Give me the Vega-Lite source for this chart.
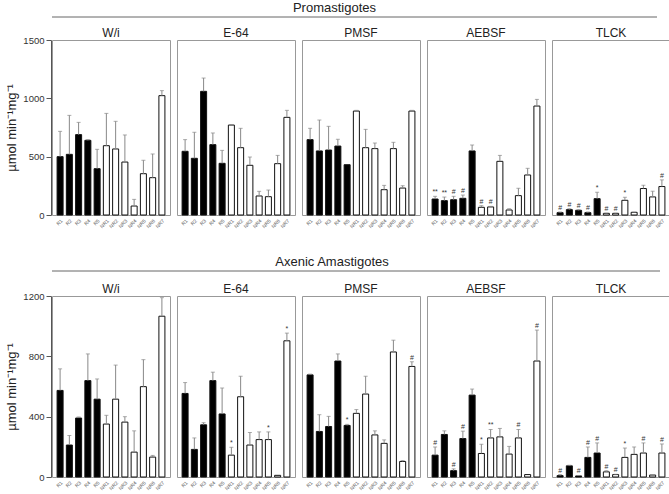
{
"$schema": "https://vega.github.io/schema/vega-lite/v6.json",
"padding": {"left": 5, "top": 2, "right": 2, "bottom": 1},
"config": {"font": "Liberation Sans", "view": {"stroke": "#999", "strokeWidth": 1}, "axis": {"grid": false}},
"data": {"values": [
{"st":"P","inh":"W/i","s":"R1","g":"R","v":500,"hi":717},
{"st":"P","inh":"W/i","s":"R2","g":"R","v":520,"hi":854},
{"st":"P","inh":"W/i","s":"R3","g":"R","v":689,"hi":794},
{"st":"P","inh":"W/i","s":"R4","g":"R","v":640,"hi":646},
{"st":"P","inh":"W/i","s":"R5","g":"R","v":397,"hi":563},
{"st":"P","inh":"W/i","s":"NR1","g":"NR","v":594,"hi":871},
{"st":"P","inh":"W/i","s":"NR2","g":"NR","v":566,"hi":803},
{"st":"P","inh":"W/i","s":"NR3","g":"NR","v":454,"hi":686},
{"st":"P","inh":"W/i","s":"NR4","g":"NR","v":77,"hi":134},
{"st":"P","inh":"W/i","s":"NR5","g":"NR","v":354,"hi":469},
{"st":"P","inh":"W/i","s":"NR6","g":"NR","v":320,"hi":523},
{"st":"P","inh":"W/i","s":"NR7","g":"NR","v":1023,"hi":1066},
{"st":"P","inh":"E-64","s":"R1","g":"R","v":546,"hi":646},
{"st":"P","inh":"E-64","s":"R2","g":"R","v":486,"hi":709},
{"st":"P","inh":"E-64","s":"R3","g":"R","v":1060,"hi":1174},
{"st":"P","inh":"E-64","s":"R4","g":"R","v":603,"hi":703},
{"st":"P","inh":"E-64","s":"R5","g":"R","v":443,"hi":554},
{"st":"P","inh":"E-64","s":"NR1","g":"NR","v":771,"hi":775},
{"st":"P","inh":"E-64","s":"NR2","g":"NR","v":577,"hi":743},
{"st":"P","inh":"E-64","s":"NR3","g":"NR","v":426,"hi":497},
{"st":"P","inh":"E-64","s":"NR4","g":"NR","v":163,"hi":203},
{"st":"P","inh":"E-64","s":"NR5","g":"NR","v":157,"hi":214},
{"st":"P","inh":"E-64","s":"NR6","g":"NR","v":440,"hi":511},
{"st":"P","inh":"E-64","s":"NR7","g":"NR","v":837,"hi":897},
{"st":"P","inh":"PMSF","s":"R1","g":"R","v":646,"hi":743},
{"st":"P","inh":"PMSF","s":"R2","g":"R","v":549,"hi":814},
{"st":"P","inh":"PMSF","s":"R3","g":"R","v":557,"hi":760},
{"st":"P","inh":"PMSF","s":"R4","g":"R","v":591,"hi":649},
{"st":"P","inh":"PMSF","s":"R5","g":"R","v":431,"hi":431},
{"st":"P","inh":"PMSF","s":"NR1","g":"NR","v":891,"hi":897},
{"st":"P","inh":"PMSF","s":"NR2","g":"NR","v":577,"hi":734},
{"st":"P","inh":"PMSF","s":"NR3","g":"NR","v":569,"hi":617},
{"st":"P","inh":"PMSF","s":"NR4","g":"NR","v":217,"hi":254},
{"st":"P","inh":"PMSF","s":"NR5","g":"NR","v":569,"hi":623},
{"st":"P","inh":"PMSF","s":"NR6","g":"NR","v":231,"hi":251},
{"st":"P","inh":"PMSF","s":"NR7","g":"NR","v":891,"hi":897},
{"st":"P","inh":"AEBSF","s":"R1","g":"R","v":137,"hi":160,"a":"**"},
{"st":"P","inh":"AEBSF","s":"R2","g":"R","v":123,"hi":154,"a":"**"},
{"st":"P","inh":"AEBSF","s":"R3","g":"R","v":131,"hi":160,"a":"#"},
{"st":"P","inh":"AEBSF","s":"R4","g":"R","v":143,"hi":171,"a":"#"},
{"st":"P","inh":"AEBSF","s":"R5","g":"R","v":549,"hi":600},
{"st":"P","inh":"AEBSF","s":"NR1","g":"NR","v":66,"hi":80,"a":"#"},
{"st":"P","inh":"AEBSF","s":"NR2","g":"NR","v":69,"hi":74,"a":"#"},
{"st":"P","inh":"AEBSF","s":"NR3","g":"NR","v":460,"hi":511},
{"st":"P","inh":"AEBSF","s":"NR4","g":"NR","v":43,"hi":54},
{"st":"P","inh":"AEBSF","s":"NR5","g":"NR","v":166,"hi":229},
{"st":"P","inh":"AEBSF","s":"NR6","g":"NR","v":343,"hi":400},
{"st":"P","inh":"AEBSF","s":"NR7","g":"NR","v":934,"hi":991},
{"st":"P","inh":"TLCK","s":"R1","g":"R","v":20,"hi":26,"a":"#"},
{"st":"P","inh":"TLCK","s":"R2","g":"R","v":46,"hi":54,"a":"#"},
{"st":"P","inh":"TLCK","s":"R3","g":"R","v":40,"hi":46,"a":"#"},
{"st":"P","inh":"TLCK","s":"R4","g":"R","v":20,"hi":26,"a":"#"},
{"st":"P","inh":"TLCK","s":"R5","g":"R","v":140,"hi":195,"a":"*"},
{"st":"P","inh":"TLCK","s":"NR1","g":"NR","v":14,"hi":16,"a":"#"},
{"st":"P","inh":"TLCK","s":"NR2","g":"NR","v":14,"hi":16,"a":"#"},
{"st":"P","inh":"TLCK","s":"NR3","g":"NR","v":126,"hi":152,"a":"*"},
{"st":"P","inh":"TLCK","s":"NR4","g":"NR","v":23,"hi":25},
{"st":"P","inh":"TLCK","s":"NR5","g":"NR","v":227,"hi":255},
{"st":"P","inh":"TLCK","s":"NR6","g":"NR","v":155,"hi":204},
{"st":"P","inh":"TLCK","s":"NR7","g":"NR","v":244,"hi":301,"a":"#"},
{"st":"A","inh":"W/i","s":"R1","g":"R","v":574,"hi":717},
{"st":"A","inh":"W/i","s":"R2","g":"R","v":212,"hi":275},
{"st":"A","inh":"W/i","s":"R3","g":"R","v":391,"hi":398},
{"st":"A","inh":"W/i","s":"R4","g":"R","v":639,"hi":816},
{"st":"A","inh":"W/i","s":"R5","g":"R","v":516,"hi":650},
{"st":"A","inh":"W/i","s":"NR1","g":"NR","v":351,"hi":409},
{"st":"A","inh":"W/i","s":"NR2","g":"NR","v":516,"hi":742},
{"st":"A","inh":"W/i","s":"NR3","g":"NR","v":364,"hi":400},
{"st":"A","inh":"W/i","s":"NR4","g":"NR","v":165,"hi":306},
{"st":"A","inh":"W/i","s":"NR5","g":"NR","v":599,"hi":778},
{"st":"A","inh":"W/i","s":"NR6","g":"NR","v":132,"hi":143},
{"st":"A","inh":"W/i","s":"NR7","g":"NR","v":1066,"hi":1189},
{"st":"A","inh":"E-64","s":"R1","g":"R","v":554,"hi":626},
{"st":"A","inh":"E-64","s":"R2","g":"R","v":183,"hi":259},
{"st":"A","inh":"E-64","s":"R3","g":"R","v":346,"hi":360},
{"st":"A","inh":"E-64","s":"R4","g":"R","v":639,"hi":695},
{"st":"A","inh":"E-64","s":"R5","g":"R","v":418,"hi":590},
{"st":"A","inh":"E-64","s":"NR1","g":"NR","v":145,"hi":197,"a":"*"},
{"st":"A","inh":"E-64","s":"NR2","g":"NR","v":532,"hi":668},
{"st":"A","inh":"E-64","s":"NR3","g":"NR","v":212,"hi":295},
{"st":"A","inh":"E-64","s":"NR4","g":"NR","v":248,"hi":299},
{"st":"A","inh":"E-64","s":"NR5","g":"NR","v":248,"hi":299,"a":"*"},
{"st":"A","inh":"E-64","s":"NR6","g":"NR","v":11,"hi":11},
{"st":"A","inh":"E-64","s":"NR7","g":"NR","v":903,"hi":954,"a":"*"},
{"st":"A","inh":"PMSF","s":"R1","g":"R","v":677,"hi":682},
{"st":"A","inh":"PMSF","s":"R2","g":"R","v":302,"hi":413},
{"st":"A","inh":"PMSF","s":"R3","g":"R","v":335,"hi":402},
{"st":"A","inh":"PMSF","s":"R4","g":"R","v":769,"hi":816},
{"st":"A","inh":"PMSF","s":"R5","g":"R","v":342,"hi":349,"a":"*"},
{"st":"A","inh":"PMSF","s":"NR1","g":"NR","v":422,"hi":447},
{"st":"A","inh":"PMSF","s":"NR2","g":"NR","v":550,"hi":668},
{"st":"A","inh":"PMSF","s":"NR3","g":"NR","v":279,"hi":306},
{"st":"A","inh":"PMSF","s":"NR4","g":"NR","v":223,"hi":246},
{"st":"A","inh":"PMSF","s":"NR5","g":"NR","v":829,"hi":907},
{"st":"A","inh":"PMSF","s":"NR6","g":"NR","v":103,"hi":109},
{"st":"A","inh":"PMSF","s":"NR7","g":"NR","v":733,"hi":764,"a":"#"},
{"st":"A","inh":"AEBSF","s":"R1","g":"R","v":145,"hi":199,"a":"#"},
{"st":"A","inh":"AEBSF","s":"R2","g":"R","v":282,"hi":306},
{"st":"A","inh":"AEBSF","s":"R3","g":"R","v":42,"hi":54,"a":"#"},
{"st":"A","inh":"AEBSF","s":"R4","g":"R","v":255,"hi":304,"a":"#"},
{"st":"A","inh":"AEBSF","s":"R5","g":"R","v":543,"hi":583},
{"st":"A","inh":"AEBSF","s":"NR1","g":"NR","v":156,"hi":217,"a":"*"},
{"st":"A","inh":"AEBSF","s":"NR2","g":"NR","v":259,"hi":315,"a":"**"},
{"st":"A","inh":"AEBSF","s":"NR3","g":"NR","v":266,"hi":322},
{"st":"A","inh":"AEBSF","s":"NR4","g":"NR","v":152,"hi":203},
{"st":"A","inh":"AEBSF","s":"NR5","g":"NR","v":259,"hi":315,"a":"#"},
{"st":"A","inh":"AEBSF","s":"NR6","g":"NR","v":16,"hi":16},
{"st":"A","inh":"AEBSF","s":"NR7","g":"NR","v":769,"hi":974,"a":"#"},
{"st":"A","inh":"TLCK","s":"R1","g":"R","v":9,"hi":16,"a":"#"},
{"st":"A","inh":"TLCK","s":"R2","g":"R","v":74,"hi":78},
{"st":"A","inh":"TLCK","s":"R3","g":"R","v":7,"hi":10,"a":"#"},
{"st":"A","inh":"TLCK","s":"R4","g":"R","v":130,"hi":199,"a":"#"},
{"st":"A","inh":"TLCK","s":"R5","g":"R","v":159,"hi":226,"a":"#"},
{"st":"A","inh":"TLCK","s":"NR1","g":"NR","v":34,"hi":42,"a":"#"},
{"st":"A","inh":"TLCK","s":"NR2","g":"NR","v":16,"hi":18,"a":"#"},
{"st":"A","inh":"TLCK","s":"NR3","g":"NR","v":130,"hi":192,"a":"*"},
{"st":"A","inh":"TLCK","s":"NR4","g":"NR","v":150,"hi":199},
{"st":"A","inh":"TLCK","s":"NR5","g":"NR","v":159,"hi":226,"a":"#"},
{"st":"A","inh":"TLCK","s":"NR6","g":"NR","v":13,"hi":13},
{"st":"A","inh":"TLCK","s":"NR7","g":"NR","v":159,"hi":219,"a":"#"}
]},
"spacing": 27,
"vconcat": [
{"spacing": 9, "vconcat": [
 {"data": {"values": [{"t": "Promastigotes"}]}, "width": 605, "height": 2, "view": {"stroke": null},
  "layer": [
   {"mark": {"type": "rule", "color": "#666", "strokeWidth": 1}, "encoding": {"y": {"field": "t", "type": "nominal", "axis": null}}},
   {"mark": {"type": "text", "fontSize": 13, "baseline": "alphabetic", "dy": -5, "dx": -20, "color": "#222"}, "encoding": {"y": {"field": "t", "type": "nominal", "axis": null}, "text": {"field": "t"}}}
  ]},
 {"transform": [{"filter": "datum.st === 'P'"}],
  "facet": {"column": {"field": "inh", "type": "nominal", "sort": ["W/i","E-64","PMSF","AEBSF","TLCK"], "header": {"title": null, "labelFontSize": 12, "labelPadding": -1, "labelColor": "#222"}}},
  "spacing": 5,
  "spec": {
   "width": 118, "height": 175,
   "encoding": {
    "x": {"field": "s", "type": "nominal", "sort": ["R1","R2","R3","R4","R5","NR1","NR2","NR3","NR4","NR5","NR6","NR7"], "scale": {"paddingInner": 0.35, "paddingOuter": 0.55}, "axis": {"title": null, "labelAngle": -45, "labelFontSize": 5, "labelColor": "#555", "ticks": false, "domain": false, "labelPadding": 2}}
   },
   "layer": [
    {"mark": {"type": "bar", "stroke": "#111", "strokeWidth": 1}, "encoding": {
      "y": {"field": "v", "type": "quantitative", "title": "µmol min⁻¹mg⁻¹", "scale": {"domain": [0,1500]}, "axis": {"values": [0,500,1000,1500], "format": "d", "labelFontSize": 9.5, "titleFontSize": 13, "titleFontWeight": "normal", "tickSize": 5, "labelPadding": 2, "domainColor": "#555", "tickColor": "#555", "labelColor": "#333", "titleColor": "#222"}},
      "color": {"field": "g", "type": "nominal", "scale": {"domain": ["R","NR"], "range": ["#000000","#ffffff"]}, "legend": null}}},
    {"transform": [{"filter": "datum.hi > datum.v"}], "mark": {"type": "rule", "color": "#888", "strokeWidth": 1}, "encoding": {
      "y": {"field": "v", "type": "quantitative", "title": "µmol min⁻¹mg⁻¹", "scale": {"domain": [0,1500]}}, "y2": {"field": "hi"}}},
    {"transform": [{"filter": "datum.hi > datum.v"}], "mark": {"type": "tick", "color": "#888", "thickness": 1, "size": 4, "orient": "horizontal"}, "encoding": {
      "y": {"field": "hi", "type": "quantitative", "title": "µmol min⁻¹mg⁻¹", "scale": {"domain": [0,1500]}}}},
    {"transform": [{"filter": "datum.a"}], "mark": {"type": "text", "fontSize": 7, "baseline": "bottom", "dy": -1, "color": "#333"}, "encoding": {
      "y": {"field": "hi", "type": "quantitative", "title": "µmol min⁻¹mg⁻¹", "scale": {"domain": [0,1500]}}, "text": {"field": "a"}}}
   ]
  }
 }
]},
{"spacing": 11, "vconcat": [
 {"data": {"values": [{"t": "Axenic Amastigotes"}]}, "width": 608, "height": 2, "view": {"stroke": null},
  "layer": [
   {"mark": {"type": "rule", "color": "#666", "strokeWidth": 1}, "encoding": {"y": {"field": "t", "type": "nominal", "axis": null}}},
   {"mark": {"type": "text", "fontSize": 13, "baseline": "alphabetic", "dy": -5, "dx": -24, "color": "#222"}, "encoding": {"y": {"field": "t", "type": "nominal", "axis": null}, "text": {"field": "t"}}}
  ]},
 {"transform": [{"filter": "datum.st === 'A'"}],
  "facet": {"column": {"field": "inh", "type": "nominal", "sort": ["W/i","E-64","PMSF","AEBSF","TLCK"], "header": {"title": null, "labelFontSize": 12, "labelPadding": -1, "labelColor": "#222"}}},
  "spacing": 5,
  "spec": {
   "width": 118, "height": 181,
   "encoding": {
    "x": {"field": "s", "type": "nominal", "sort": ["R1","R2","R3","R4","R5","NR1","NR2","NR3","NR4","NR5","NR6","NR7"], "scale": {"paddingInner": 0.35, "paddingOuter": 0.55}, "axis": {"title": null, "labelAngle": -45, "labelFontSize": 5, "labelColor": "#555", "ticks": false, "domain": false, "labelPadding": 2}}
   },
   "layer": [
    {"mark": {"type": "bar", "stroke": "#111", "strokeWidth": 1}, "encoding": {
      "y": {"field": "v", "type": "quantitative", "title": "µmol min⁻¹mg⁻¹", "scale": {"domain": [0,1200]}, "axis": {"values": [0,400,800,1200], "format": "d", "labelFontSize": 9.5, "titleFontSize": 13, "titleFontWeight": "normal", "tickSize": 5, "labelPadding": 2, "domainColor": "#555", "tickColor": "#555", "labelColor": "#333", "titleColor": "#222"}},
      "color": {"field": "g", "type": "nominal", "scale": {"domain": ["R","NR"], "range": ["#000000","#ffffff"]}, "legend": null}}},
    {"transform": [{"filter": "datum.hi > datum.v"}], "mark": {"type": "rule", "color": "#888", "strokeWidth": 1}, "encoding": {
      "y": {"field": "v", "type": "quantitative", "title": "µmol min⁻¹mg⁻¹", "scale": {"domain": [0,1200]}}, "y2": {"field": "hi"}}},
    {"transform": [{"filter": "datum.hi > datum.v"}], "mark": {"type": "tick", "color": "#888", "thickness": 1, "size": 4, "orient": "horizontal"}, "encoding": {
      "y": {"field": "hi", "type": "quantitative", "title": "µmol min⁻¹mg⁻¹", "scale": {"domain": [0,1200]}}}},
    {"transform": [{"filter": "datum.a"}], "mark": {"type": "text", "fontSize": 7, "baseline": "bottom", "dy": -1, "color": "#333"}, "encoding": {
      "y": {"field": "hi", "type": "quantitative", "title": "µmol min⁻¹mg⁻¹", "scale": {"domain": [0,1200]}}, "text": {"field": "a"}}}
   ]
  }
 }
]}
]
}
